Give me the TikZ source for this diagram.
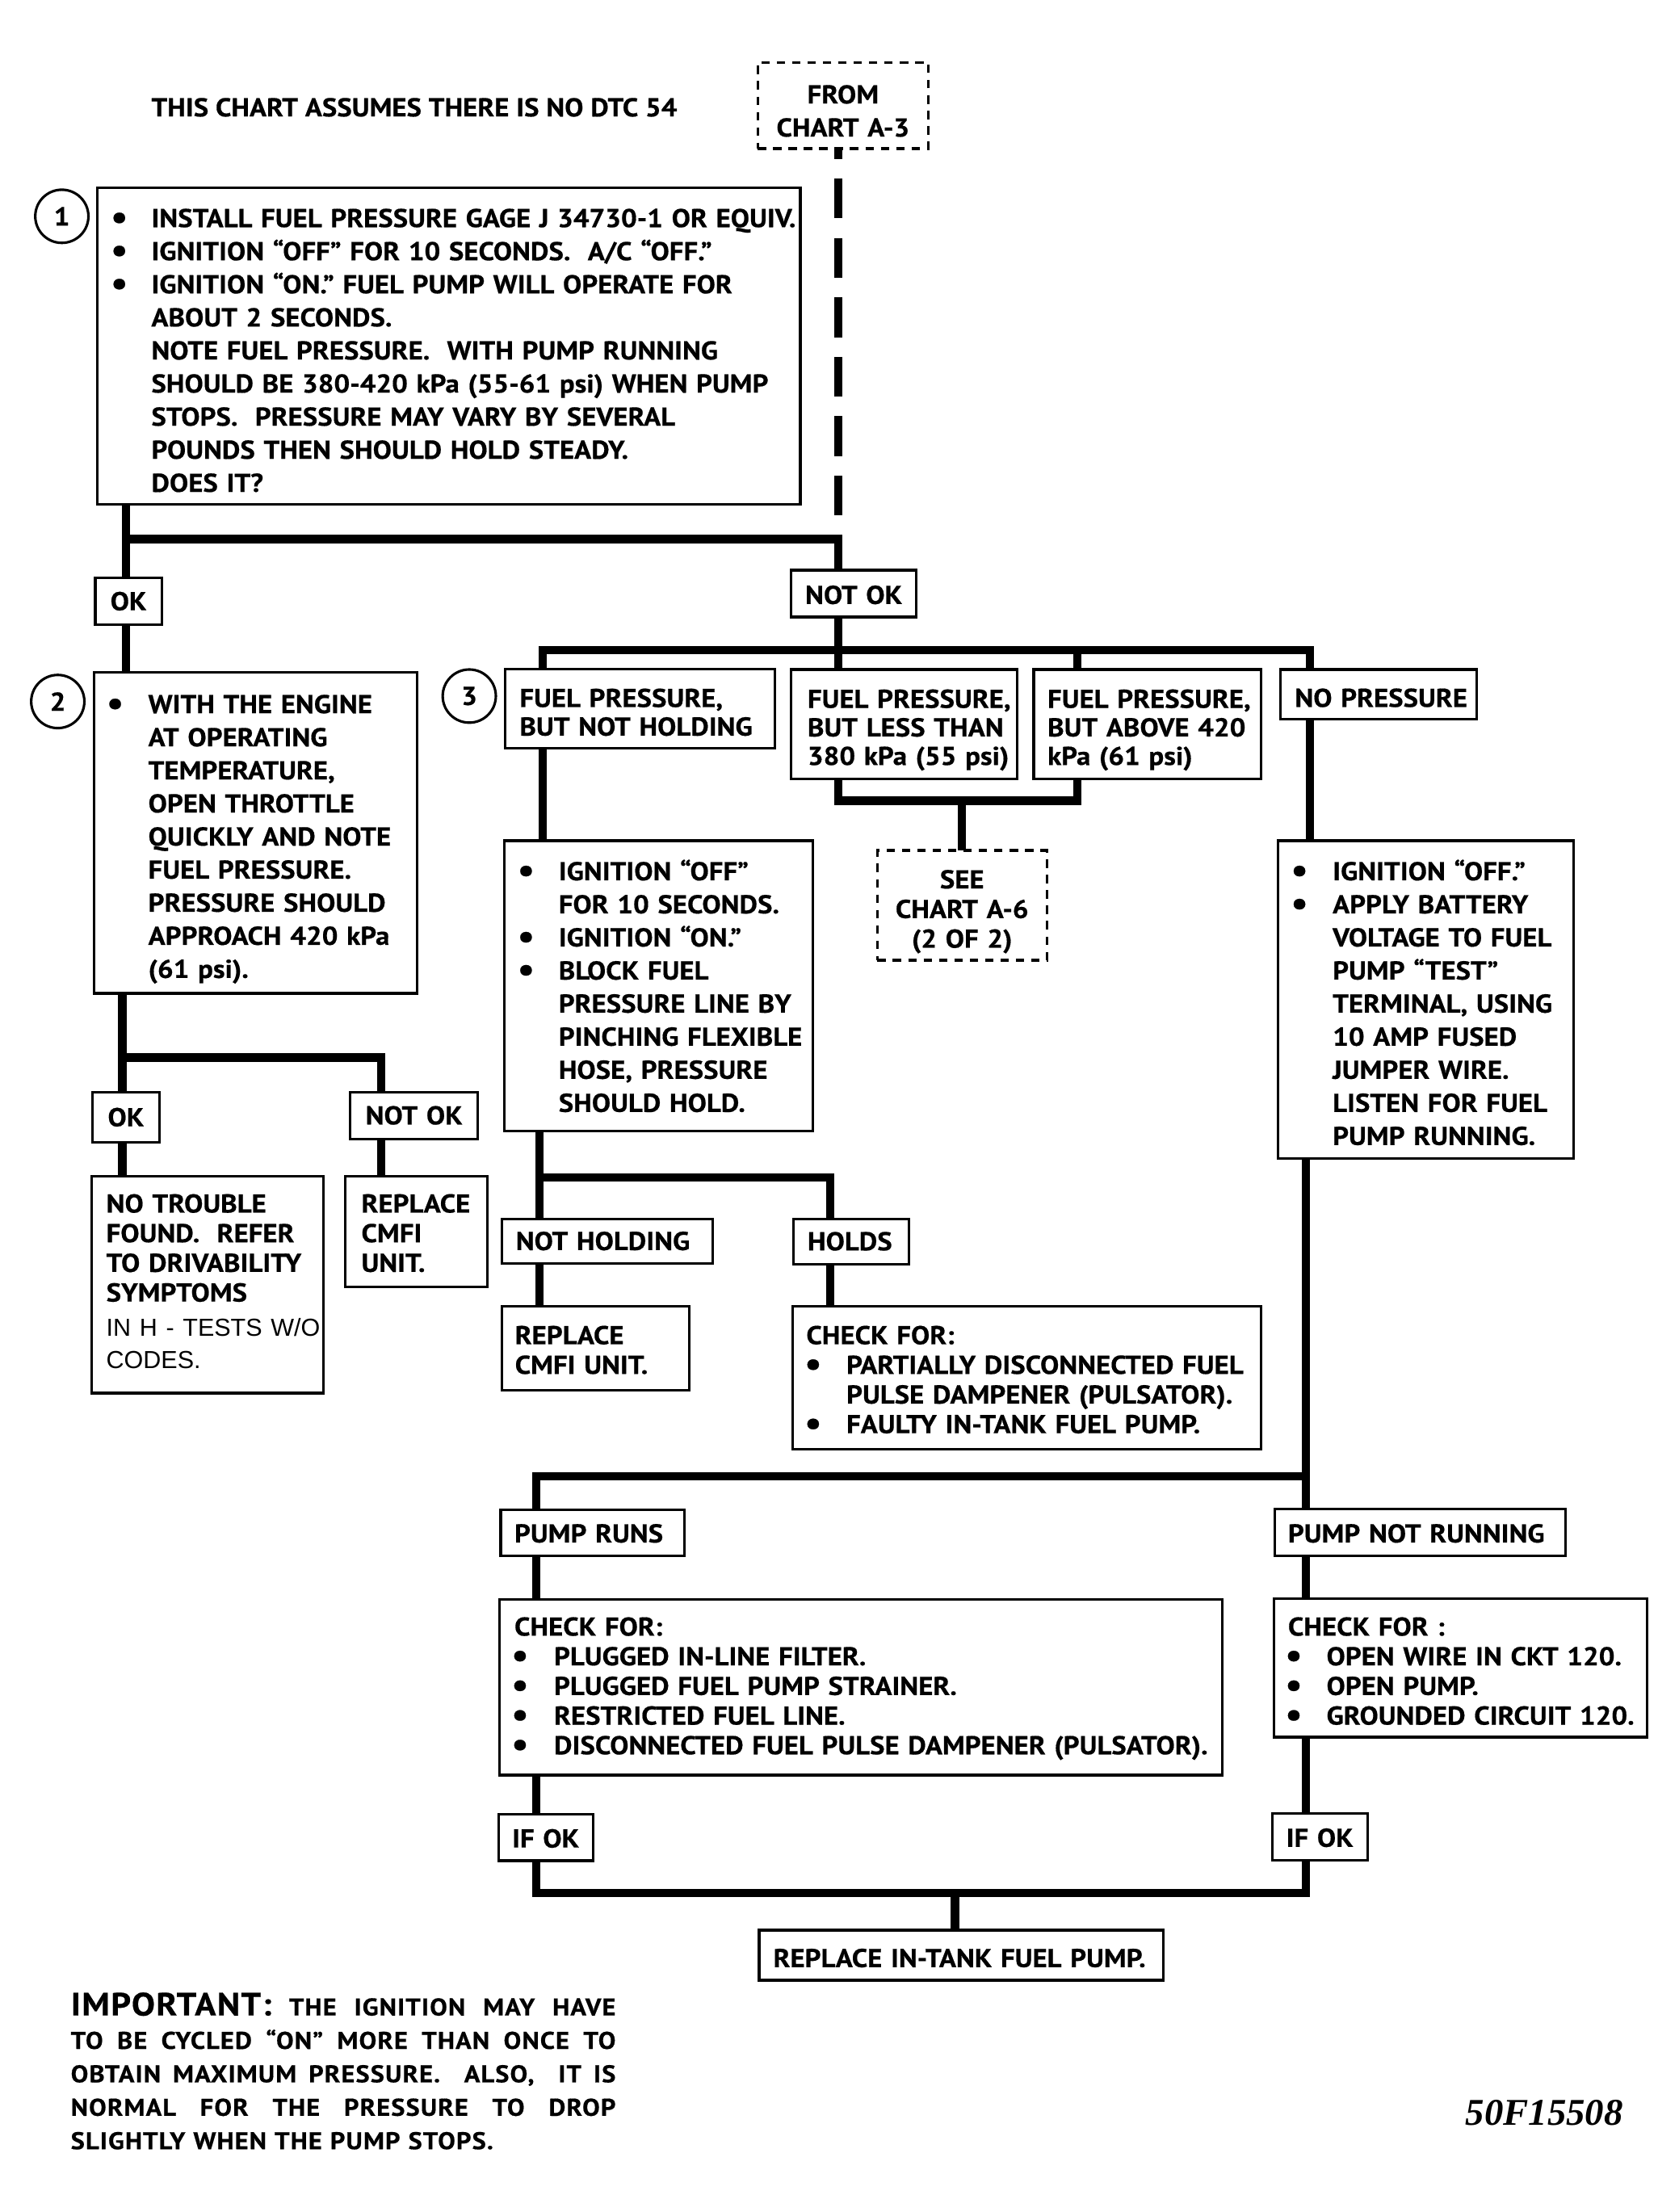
\documentclass[tikz,border=0pt]{standalone}
\usepackage{fontspec}
\usepackage{graphicx}
\setmainfont{PT Sans}[FakeStretch=1.085, BoldFeatures={FakeBold=0.5}]
\newfontfamily\impfont{PT Sans}[FakeStretch=1.085, LetterSpace=3.5, BoldFeatures={FakeBold=0.5}]
\newfontfamily\hvfont{Liberation Sans}
\newfontfamily\tmsfont{Liberation Serif}
\newcommand\capH{12.9}
\newcommand\bul{\makebox[0pt][c]{\raisebox{-1.2pt}{\scalebox{1.35}{•}}}}
\newcommand\itm[3]{\mbox{\hspace*{#1pt}\llap{\bul\hspace*{#2pt}}#3}}
\newcommand\tl[2]{\mbox{\hspace*{#1pt}#2}}
\newcommand\cl[1]{\makebox[0pt][c]{#1}}
\newcommand\jline[1]{\leavevmode\hbox to 389.5pt{#1}}
\newcommand\mkbox[9]{%
  \pgfmathsetmacro\mkw{#5-#3-2*#7}%
  \pgfmathsetmacro\mkh{#8+\capH/2-#4}%
  \pgfmathsetmacro\mkd{#6-#8-\capH/2}%
  \node[#1, text width=\mkw pt, inner xsep=#7pt, text height=\mkh pt, text depth=\mkd pt] (#2) at (#3,#4) {#9};%
}
\begin{document}
\begin{tikzpicture}[x=1pt,y=-1pt,
  box/.style={draw, line width=1.8pt, anchor=north west, inner ysep=0pt, outer sep=0pt, align=left,
    font=\bfseries\fontsize{18.5}{23.65}\selectfont},
  dbox/.style={box, dash pattern=on 6pt off 5pt, align=center},
  ctr/.style={align=center},
  small/.style={font=\bfseries\fontsize{18.5}{21.2}\selectfont},
  head/.style={font=\bfseries\fontsize{18.5}{20.4}\selectfont},
  num/.style={circle, draw, line width=1.8pt, minimum size=38pt, inner sep=0pt, outer sep=0pt,
    font=\bfseries\fontsize{18.5}{20}\selectfont},
  conn/.style={line width=6pt},
  dconn/.style={line width=6pt, dash pattern=on 28.5pt off 14pt, dash phase=21.2pt},
  plain/.style={anchor=base west, inner sep=0pt, outer sep=0pt}]
\useasboundingbox (0,0) rectangle (1200,1581);

% ---- free texts
\node[plain, font=\bfseries\fontsize{18.5}{22}\selectfont] (note) at (108.2,83.2) {THIS CHART ASSUMES THERE IS NO DTC 54};
\node[plain, font=\tmsfont\bfseries\itshape\fontsize{27}{30}\selectfont] (code) at (1047.5,1519) {50F15508};
\node[plain, text width=389.5pt, align=left, font=\impfont\bfseries\fontsize{17.3}{23.9}\selectfont] (imp) at (50.6,1440.5) {%
\jline{{\fontsize{23}{23.9}\selectfont IMPORTANT:}\hfill THE\hfill IGNITION\hfill MAY\hfill HAVE}\\
\jline{TO\hfill BE\hfill CYCLED\hfill “ON”\hfill MORE\hfill THAN\hfill ONCE\hfill TO}\\
\jline{OBTAIN\hfill MAXIMUM\hfill PRESSURE.\hfill\hfill ALSO,\hfill\hfill IT\hfill IS}\\
\jline{NORMAL\hfill FOR\hfill THE\hfill PRESSURE\hfill TO\hfill DROP}\\
\mbox{SLIGHTLY WHEN THE PUMP STOPS.}};

% ---- circled step numbers
\node[num] (c1) at (44.2,154.6) {1};
\node[num] (c2) at (41.3,501.4) {2};
\node[num] (c3) at (335.4,497.5) {3};

% ---- boxes
\mkbox{dbox}{from}{541.5}{44.6}{663.5}{106.2}{4}{67.5}{\cl{FROM}\\\cl{CHART A-3}}

\mkbox{box}{b1}{69.4}{134}{572}{360.7}{38.8}{155.9}{%
\itm{0}{22.9}{INSTALL FUEL PRESSURE GAGE J 34730-1 OR EQUIV.}\\
\itm{0}{22.9}{IGNITION “OFF” FOR 10 SECONDS.\ \ A/C “OFF.”}\\
\itm{0}{22.9}{IGNITION “ON.” FUEL PUMP WILL OPERATE FOR}\\
\tl{0}{ABOUT 2 SECONDS.}\\
\tl{0}{NOTE FUEL PRESSURE.\ \ WITH PUMP RUNNING}\\
\tl{0}{SHOULD BE 380-420 kPa (55-61 psi) WHEN PUMP}\\
\tl{0}{STOPS.\ \ PRESSURE MAY VARY BY SEVERAL}\\
\tl{0}{POUNDS THEN SHOULD HOLD STEADY.}\\
\tl{0}{DOES IT?}}

\mkbox{box,ctr}{ok1}{68.1}{412.9}{115.6}{446.6}{2}{429.7}{\cl{OK}}
\mkbox{box,ctr}{nok1}{565.5}{407.5}{654.9}{441}{2}{425.2}{\cl{NOT OK}}

\mkbox{box}{b2}{67}{480.3}{298}{710}{39}{503.3}{%
\itm{0}{23.7}{WITH THE ENGINE}\\
\tl{0}{AT OPERATING}\\
\tl{0}{TEMPERATURE,}\\
\tl{0}{OPEN THROTTLE}\\
\tl{0}{QUICKLY AND NOTE}\\
\tl{0}{FUEL PRESSURE.}\\
\tl{0}{PRESSURE SHOULD}\\
\tl{0}{APPROACH 420 kPa}\\
\tl{0}{(61 psi).}}

\mkbox{box,ctr}{ok2}{66}{780.7}{114}{816.3}{2}{798.5}{\cl{OK}}
\mkbox{box,ctr}{nok2}{250.3}{780.5}{341.6}{814}{2}{797.2}{\cl{NOT OK}}

\mkbox{box,small}{ntf}{65.4}{840.5}{231.2}{995.7}{10.6}{860.2}{%
\tl{0}{NO TROUBLE}\\
\tl{0}{FOUND.\ \ REFER}\\
\tl{0}{TO DRIVABILITY}\\
\tl{0}{SYMPTOMS}\\[3.8pt]
\tl{0}{\hvfont\mdseries\fontsize{17.6}{21.2}\selectfont IN H - TESTS W/O}\\[1.5pt]
\tl{0}{\hvfont\mdseries\fontsize{17.6}{21.2}\selectfont CODES.}}

\mkbox{box,small}{rcm}{246.8}{840.5}{348.4}{920}{11.5}{860.2}{\tl{0}{REPLACE}\\\tl{0}{CMFI}\\\tl{0}{UNIT.}}

\mkbox{box,head}{fpnh}{361}{478.4}{553.6}{535}{10.4}{498.9}{\tl{0}{FUEL PRESSURE,}\\\tl{0}{BUT NOT HOLDING}}
\mkbox{box,head}{less}{565.5}{478.5}{727}{556.6}{11.7}{499.5}{\tl{0}{FUEL PRESSURE,}\\\tl{0}{BUT LESS THAN}\\\tl{0}{380 kPa (55 psi)}}
\mkbox{box,head}{above}{738.8}{478.5}{901.5}{556.8}{9.9}{499.5}{\tl{0}{FUEL PRESSURE,}\\\tl{0}{BUT ABOVE 420}\\\tl{0}{kPa (61 psi)}}
\mkbox{box}{nop}{915.4}{478.5}{1055.5}{514.1}{10.1}{498.8}{\tl{0}{NO PRESSURE}}

\mkbox{dbox,small}{see}{627.1}{607.8}{748.1}{686.3}{4}{628.5}{\cl{SEE}\\\cl{CHART A-6}\\\cl{(2 OF 2)}}

\mkbox{box}{ignl}{360.3}{600.9}{580.8}{808.6}{39}{622.7}{%
\itm{0}{23.3}{IGNITION “OFF”}\\
\tl{0}{FOR 10 SECONDS.}\\
\itm{0}{23.3}{IGNITION “ON.”}\\
\itm{0}{23.3}{BLOCK FUEL}\\
\tl{0}{PRESSURE LINE BY}\\
\tl{0}{PINCHING FLEXIBLE}\\
\tl{0}{HOSE, PRESSURE}\\
\tl{0}{SHOULD HOLD.}}

\mkbox{box}{ignr}{913.5}{600.9}{1124.8}{828}{39}{622.7}{%
\itm{0}{23.7}{IGNITION “OFF.”}\\
\itm{0}{23.7}{APPLY BATTERY}\\
\tl{0}{VOLTAGE TO FUEL}\\
\tl{0}{PUMP “TEST”}\\
\tl{0}{TERMINAL, USING}\\
\tl{0}{10 AMP FUSED}\\
\tl{0}{JUMPER WIRE.}\\
\tl{0}{LISTEN FOR FUEL}\\
\tl{0}{PUMP RUNNING.}}

\mkbox{box}{nh}{358.7}{871.1}{509.6}{903.2}{10}{887}{\tl{0}{NOT HOLDING}}
\mkbox{box}{holds}{566.9}{871.1}{649.4}{903.5}{10.3}{887.2}{\tl{0}{HOLDS}}
\mkbox{box,small}{rcm2}{358.5}{933.8}{492.6}{993.5}{9.6}{954.3}{\tl{0}{REPLACE}\\\tl{0}{CMFI UNIT.}}

\mkbox{box,small}{chk1}{566.3}{933.8}{901.4}{1036}{10}{954.3}{%
\tl{0}{CHECK FOR:}\\
\itm{28.7}{23.8}{PARTIALLY DISCONNECTED FUEL}\\
\tl{28.7}{PULSE DAMPENER (PULSATOR).}\\
\itm{28.7}{23.8}{FAULTY IN-TANK FUEL PUMP.}}

\mkbox{box}{pr}{357.9}{1079}{489}{1112}{9.8}{1096}{\tl{0}{PUMP RUNS}}
\mkbox{box}{pnr}{911}{1078.4}{1119}{1112}{9.6}{1096}{\tl{0}{PUMP NOT RUNNING}}

\mkbox{box,small}{chk2}{357.1}{1143}{873.6}{1268.7}{10.6}{1162.6}{%
\tl{0}{CHECK FOR:}\\
\itm{28.3}{24.3}{PLUGGED IN-LINE FILTER.}\\
\itm{28.3}{24.3}{PLUGGED FUEL PUMP STRAINER.}\\
\itm{28.3}{24.3}{RESTRICTED FUEL LINE.}\\
\itm{28.3}{24.3}{DISCONNECTED FUEL PULSE DAMPENER (PULSATOR).}}

\mkbox{box,small}{chk3}{910.5}{1142.4}{1177.3}{1241.6}{10.1}{1162.6}{%
\tl{0}{CHECK FOR :}\\
\itm{27.5}{23.4}{OPEN WIRE IN CKT 120.}\\
\itm{27.5}{23.4}{OPEN PUMP.}\\
\itm{27.5}{23.4}{GROUNDED CIRCUIT 120.}}

\mkbox{box}{if1}{356.3}{1296.6}{424}{1329.9}{9.7}{1314}{\tl{0}{IF OK}}
\mkbox{box}{if2}{909.3}{1296.2}{977.3}{1329.5}{10}{1313.5}{\tl{0}{IF OK}}
\mkbox{box}{rit}{542.6}{1379.5}{831.5}{1415.3}{10.1}{1399.5}{\tl{0}{REPLACE IN-TANK FUEL PUMP.}}

% ---- junction points
\coordinate (jL1) at (90,385.2);
\coordinate (jR1) at (599,385.2);
\coordinate (jB2L) at (387.8,464.5);
\coordinate (jB2R) at (936.3,464.5);
\coordinate (jA) at (770,464.5);
\coordinate (j2) at (87.5,755.9);
\coordinate (j2r) at (272.5,755.9);
\coordinate (j3l) at (599,572.2);
\coordinate (j3r) at (770,572.2);
\coordinate (j3m) at (687.5,572.2);
\coordinate (j4l) at (385.5,841.5);
\coordinate (j4r) at (593.5,841.5);
\coordinate (j5l) at (383.3,1055.3);
\coordinate (j5r) at (933.3,1055.3);
\coordinate (j6l) at (383.3,1353);
\coordinate (j6r) at (933.3,1353);
\coordinate (j6m) at (682.5,1353);

% ---- connectors
\draw[dconn] (from.south -| jR1) -- (jR1);
\draw[conn] (b1.south -| jL1) -- (ok1.north -| jL1);
\draw[conn] (jL1) -- (jR1) -- (nok1.north -| jR1);
\draw[conn] (ok1.south -| jL1) -- (b2.north -| jL1);
\draw[conn] (nok1.south -| jR1) -- (less.north -| jR1);
\draw[conn] (fpnh.north -| jB2L) -- (jB2L) -- (jB2R) -- (nop.north -| jB2R);
\draw[conn] (jA) -- (above.north -| jA);
\draw[conn] (b2.south -| j2) -- (ok2.north -| j2);
\draw[conn] (j2) -- (j2r) -- (nok2.north -| j2r);
\draw[conn] (ok2.south -| j2) -- (ntf.north -| j2);
\draw[conn] (nok2.south -| j2r) -- (rcm.north -| j2r);
\draw[conn] (less.south -| j3l) -- (j3l) -- (j3r) -- (above.south -| j3r);
\draw[conn] (j3m) -- (see.north -| j3m);
\draw[conn] (fpnh.south -| jB2L) -- (ignl.north -| jB2L);
\draw[conn] (ignl.south -| j4l) -- (nh.north -| j4l);
\draw[conn] (j4l) -- (j4r) -- (holds.north -| j4r);
\draw[conn] (nh.south -| j4l) -- (rcm2.north -| j4l);
\draw[conn] (holds.south -| j4r) -- (chk1.north -| j4r);
\draw[conn] (nop.south -| jB2R) -- (ignr.north -| jB2R);
\draw[conn] (ignr.south -| j5r) -- (pnr.north -| j5r);
\draw[conn] (j5r) -- (j5l) -- (pr.north -| j5l);
\draw[conn] (pr.south -| j5l) -- (chk2.north -| j5l);
\draw[conn] (chk2.south -| j5l) -- (if1.north -| j5l);
\draw[conn] (pnr.south -| j5r) -- (chk3.north -| j5r);
\draw[conn] (chk3.south -| j5r) -- (if2.north -| j5r);
\draw[conn] (if1.south -| j6l) -- (j6l) -- (j6r) -- (if2.south -| j6r);
\draw[conn] (j6m) -- (rit.north -| j6m);
\end{tikzpicture}
\end{document}
